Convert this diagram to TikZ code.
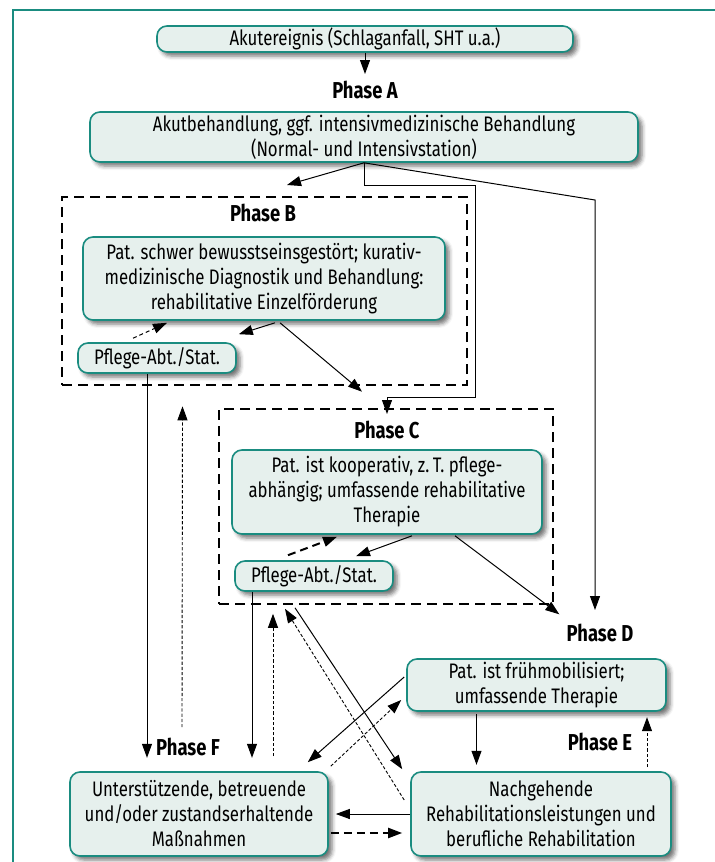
\documentclass[tikz,border=0pt]{standalone}
\usepackage{fontspec}
\setmainfont{Fira Sans}[FakeStretch=0.8]
\usetikzlibrary{arrows.meta,calc,shadows.blur}
\definecolor{tealline}{RGB}{26,140,128}
\definecolor{boxfill}{RGB}{230,240,237}

\begin{document}
\begin{tikzpicture}[x=0.5pt, y={(0pt,-0.5pt)}, font=\fontsize{10.5}{12.5}\selectfont,
    box/.style={draw=tealline, line width=0.8pt, fill=boxfill, rounded corners=5pt,
      align=center, inner sep=0pt,
      blur shadow={shadow xshift=2pt, shadow yshift=-2pt, shadow blur radius=2pt, shadow opacity=55}},
    phase/.style={font=\fontsize{11.5}{13}\selectfont\bfseries},
    phframe/.style={draw, line width=1.3pt, dash pattern=on 5pt off 3pt, inner sep=0pt},
    arr/.style={-{Triangle[length=7pt,width=5pt]}, line width=0.5pt},
    middash/.style={arr, dash pattern=on 2pt off 1.5pt},
    thindash/.style={arr, line width=0.45pt, dash pattern=on 1.6pt off 1pt},
    thickdash/.style={arr, line width=1pt, dash pattern=on 4pt off 2.5pt}]
      \useasboundingbox (0,0) rectangle (715,862);
      \clip (0,0) rectangle (715,862);
      \draw[tealline, line width=1pt] (13,10) rectangle (740,900);

      \node[phframe, minimum width=202.5pt, minimum height=94pt] (frB) at (264.5,291) {};
      \node[phframe, minimum width=167pt, minimum height=97.5pt] (frC) at (386,506.5) {};

      \node[box, minimum width=208pt, minimum height=13pt] (akut) at (365,39) {Akutereignis (Schlaganfall, SHT u.a.)};
      \node[phase] (phA) at (365,90) {Phase A};
      \node[box, minimum width=274pt, minimum height=25pt] (akutb) at (364,137) {Akutbehandlung, ggf. intensivmedizinische Behandlung\\(Normal- und Intensivstation)};

      \node[phase] (phB) at (263,213) {Phase B};
      \node[box, minimum width=181pt, minimum height=41.5pt] (boxB) at (264,278.5) {Pat. schwer bewusstseinsgestört; kurativ-\\medizinische Diagnostik und Behandlung:\\rehabilitative Einzelförderung};
      \node[box, minimum width=79pt, minimum height=15pt] (pflB) at (157,358) {Pflege-Abt./Stat.};

      \node[phase] (phC) at (387,430) {Phase C};
      \node[box, minimum width=155pt, minimum height=42pt] (boxC) at (387,492) {Pat. ist kooperativ, z.\,T. pflege-\\abhängig; umfassende rehabilitative\\Therapie};
      \node[box, minimum width=79pt, minimum height=15pt] (pflC) at (314,576) {Pflege-Abt./Stat.};

      \node[phase] (phD) at (600,633) {Phase D};
      \node[box, minimum width=129.5pt, minimum height=26pt] (boxD) at (536.5,685) {Pat. ist frühmobilisiert;\\umfassende Therapie};
      \node[phase] (phE) at (600,742) {Phase E};
      \node[box, minimum width=130pt, minimum height=42pt] (boxE) at (541,814) {Nachgehende\\Rehabilitationsleistungen und\\berufliche Rehabilitation};
      \node[phase] (phF) at (188,747) {Phase F};
      \node[box, minimum width=129pt, minimum height=42pt] (boxF) at (199,814) {Unterstützende, betreuende\\und/oder zustandserhaltende\\Maßnahmen};

      \coordinate (tipB) at (287,185);
      \coordinate (bendC1) at (475,185);
      \coordinate (bendC2) at (475,397);
      \coordinate (bendD) at (595,200);
      \coordinate (tipD) at (595,610);

      \draw[arr] (akut) -- (phA);
      \draw[arr] (akutb.south) -- (tipB);
      \draw[arr] (akutb.south) |- (bendC1) -- (bendC2) -| (phC.north);
      \draw[arr] (akutb.south) -- (bendD) -- (tipD);

      \draw[middash] ($(pflB.north)+(-24,-4)$) -- ($(boxB.south)+(-97,2)$);
      \draw[arr] ($(boxB.south)+(11,2)$) -- ($(pflB.north east)+(2,-8)$);
      \draw[arr] ($(boxB.south)+(16,2)$) -- ($(frC.north)+(-24,-16)$);
      \draw[arr] ($(pflB.south)+(-10,0)$) -- ++(0,384);
      \draw[thindash] ($(boxF.north)+(-17,-44)$) -- ($(frB.south)+(-82,20)$);

      \draw[thickdash] ($(pflC.north)+(-26,-5)$) -- ($(boxC.south)+(-50,2)$);
      \draw[arr] ($(boxC.south)+(25,1)$) -- ($(pflC.north)+(42,-4)$);
      \draw[arr] ($(boxC.south)+(68,1)$) -- ($(frC.south east)+(5,9)$);

      \draw[arr] ($(boxD.south)+(-60,2)$) -- ++(0,51);
      \draw[thindash] ($(boxE.north)+(106,-4)$) -- ++(0,-50);
      \draw[arr] (boxE.west) -- ($(boxF.east)+(7,0)$);
      \draw[thickdash] ($(boxF.east)+(2,19)$) -- ($(boxE.west)+(-8,19)$);

      \draw[arr] ($(pflC.south)+(-62,0)$) -- ++(0,166);
      \draw[thindash] ($(boxF.north)+(74,-15)$) -- ($(pflC.south)+(-41,22)$);
      \draw[thindash] ($(boxE.west)+(-6,-14)$) -- ($(pflC.south)+(-29,17)$);
      \draw[arr] ($(pflC.south)+(-19,16)$) -- ($(boxE.north west)+(-8,-2)$);
      \draw[arr] ($(boxD.west)+(-2,-8)$) -- ($(boxF.north east)+(-21,-9)$);
      \draw[thindash] ($(boxF.north east)+(2,-5)$) -- ($(boxD.west)+(-5,15)$);
    \end{tikzpicture}
\end{document}
